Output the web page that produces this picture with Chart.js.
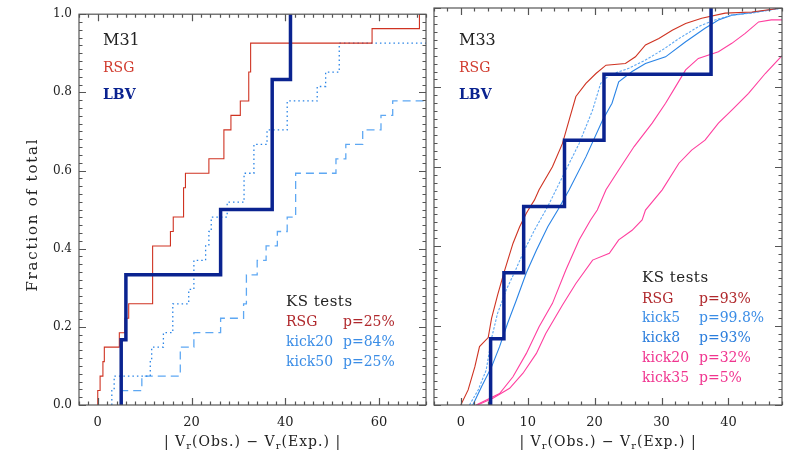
<!DOCTYPE html>
<html>
<head>
<meta charset="utf-8">
<script src="https://cdn.jsdelivr.net/npm/chart.js@4.4.0/dist/chart.umd.min.js"></script>
<style>
  html, body { margin: 0; padding: 0; background: #fff; }
  #wrap { position: relative; width: 789px; height: 456px; overflow: hidden; }
  canvas { position: absolute; top: 0; }
  #left { left: 0; }
  #right { left: 430px; }
</style>
</head>
<body>
<div id="wrap">
  <canvas id="left" width="430" height="456"></canvas>
  <canvas id="right" width="359" height="456"></canvas>
</div>
<script>
'use strict';

// tick labels
let xTicksM31 = [0, 20, 40, 60];
let xTicksM33 = [0, 10, 20, 30, 40];
let yTicks = [0, 0.2, 0.4, 0.6, 0.8, 1.0];

// M31: cumulative fractions (x = |Vr(Obs.) - Vr(Exp.)|, y = fraction after the step)
let lbvM31X = [5.0, 5.0, 6.0, 26.2, 37.2, 41.1];
let lbvM31Y = [0, 0.167, 0.333, 0.5, 0.833, 1.0];

let rsgM31X = [0, 0, 0.5, 1.1, 1.4, 4.6, 5.8, 6.6, 11.7, 15.5, 16.1, 18.3, 18.7, 23.7, 26.9, 28.4, 30.4, 32.2, 32.6, 58.5, 68.6, 70];
let rsgM31Y = [0, 0.037, 0.074, 0.111, 0.148, 0.185, 0.222, 0.259, 0.407, 0.444, 0.481, 0.556, 0.593, 0.630, 0.704, 0.741, 0.778, 0.852, 0.926, 0.963, 1.0, 1.0];

let kick20M31X = [3.0, 3.0, 3.5, 11.2, 11.5, 14.0, 16.0, 19.4, 20.5, 23.0, 23.7, 24.2, 27.6, 31.2, 33.3, 36.1, 40.4, 46.8, 48.6, 51.5, 70];
let kick20M31Y = [0, 0.037, 0.074, 0.111, 0.148, 0.185, 0.259, 0.296, 0.370, 0.407, 0.444, 0.481, 0.519, 0.593, 0.667, 0.704, 0.778, 0.815, 0.852, 0.926, 0.926];

let kick50M31X = [5.1, 5.1, 9.4, 17.6, 20.5, 26.2, 31.1, 31.7, 34.0, 35.9, 38.3, 40.4, 42.2, 50.8, 52.9, 56.5, 60.4, 62.9, 70];
let kick50M31Y = [0, 0.037, 0.074, 0.148, 0.185, 0.222, 0.259, 0.333, 0.370, 0.407, 0.444, 0.481, 0.593, 0.630, 0.667, 0.704, 0.741, 0.778, 0.778];

// M33
let lbvM33X = [4.46, 4.46, 6.45, 9.4, 15.5, 21.4, 37.4];
let lbvM33Y = [0, 0.167, 0.333, 0.5, 0.667, 0.833, 1.0];

let rsgM33X = [0, 1.1, 2.1, 2.8, 4.1, 4.6, 5.5, 6.5, 7.8, 8.8, 9.8, 10.4, 11.0, 11.7, 13.7, 15.2, 16.2, 17.2, 18.7, 20.2, 21.7, 24.6, 26.1, 27.6, 29.6, 31.6, 33.6, 36.0, 39.5, 43.5, 48];
let rsgM33Y = [0, 0.038, 0.096, 0.147, 0.17, 0.218, 0.277, 0.336, 0.407, 0.449, 0.483, 0.5, 0.516, 0.542, 0.6, 0.659, 0.718, 0.777, 0.81, 0.835, 0.856, 0.86, 0.877, 0.907, 0.923, 0.944, 0.961, 0.974, 0.987, 0.99, 1.0];

let kick5M33X = [1.3, 2.6, 3.8, 4.6, 5.5, 6.8, 8.0, 9.5, 11.0, 13.0, 15.2, 17.7, 19.7, 20.9, 22.2, 25.1, 27.6, 30.1, 32.6, 35.5, 38.0, 40.5, 43.5, 48];
let kick5M33Y = [0, 0.038, 0.088, 0.168, 0.231, 0.29, 0.333, 0.39, 0.44, 0.5, 0.575, 0.659, 0.743, 0.81, 0.831, 0.848, 0.869, 0.894, 0.923, 0.953, 0.97, 0.982, 0.987, 1.0];

let kick8M33X = [1.8, 3.1, 4.6, 5.8, 7.0, 8.3, 9.8, 11.3, 13.0, 14.5, 16.2, 18.7, 21.2, 22.6, 23.6, 25.6, 27.6, 30.6, 33.6, 36.5, 38.5, 40.5, 43.4, 48];
let kick8M33Y = [0, 0.046, 0.096, 0.147, 0.206, 0.264, 0.333, 0.39, 0.449, 0.491, 0.542, 0.625, 0.718, 0.76, 0.814, 0.84, 0.86, 0.877, 0.915, 0.949, 0.97, 0.982, 0.988, 1.0];

let kick20M33X = [2.3, 5.8, 7.8, 9.8, 11.7, 13.7, 15.7, 17.7, 19.4, 20.4, 21.7, 23.6, 25.9, 28.6, 30.6, 32.1, 33.6, 35.5, 38.5, 40.5, 42.5, 44.5, 46.4, 48];
let kick20M33Y = [0, 0.029, 0.071, 0.13, 0.197, 0.256, 0.34, 0.416, 0.466, 0.491, 0.542, 0.592, 0.651, 0.71, 0.76, 0.802, 0.844, 0.873, 0.89, 0.911, 0.936, 0.965, 0.97, 0.97];

let kick35M33X = [2.5, 4.8, 7.3, 9.3, 11.3, 12.7, 15.2, 17.2, 19.7, 22.2, 23.6, 25.6, 27.1, 27.6, 30.1, 32.6, 34.5, 36.5, 38.5, 40.5, 43.0, 45.5, 48];
let kick35M33Y = [0, 0.017, 0.042, 0.08, 0.13, 0.18, 0.252, 0.306, 0.365, 0.382, 0.416, 0.44, 0.466, 0.491, 0.542, 0.609, 0.642, 0.667, 0.71, 0.743, 0.785, 0.835, 0.88];

let RED = '#cf3322';
let NAVY = '#0a2390';
let BLUE_LIGHT = '#5ea8f3';
let BLUE = '#2a84e6';
let PINK = '#ff3f9f';
let SERIF = '"DejaVu Serif", "Liberation Serif", serif';

function toPoints(xs, ys) {
  return xs.map((x, i) => ({ x: x, y: ys[i] }));
}

function drawText(ctx, str, x, y, size, color, bold, spacing) {
  ctx.font = (bold ? 'bold ' : '') + size + 'px ' + SERIF;
  ctx.fillStyle = color;
  ctx.letterSpacing = (spacing || 0) + 'px';
  ctx.fillText(str, x, y);
  ctx.letterSpacing = '0px';
}

// box with inward ticks on all four sides
let framePlugin = {
  id: 'frame',
  afterDatasetsDraw(chart, args, opts) {
    let ctx = chart.ctx;
    let a = chart.chartArea;
    let xs = chart.scales.x;
    let ys = chart.scales.y;
    ctx.save();
    ctx.strokeStyle = '#555';
    ctx.lineWidth = 1.2;
    ctx.strokeRect(a.left, a.top, a.right - a.left, a.bottom - a.top);
    ctx.beginPath();
    for (let k = Math.ceil(xs.min / opts.xMinor); k * opts.xMinor <= xs.max; k++) {
      let v = k * opts.xMinor;
      let px = Math.round(xs.getPixelForValue(v)) + 0.5;
      let len = (k % opts.xEvery === 0) ? 7 : 3.5;
      ctx.moveTo(px, a.bottom); ctx.lineTo(px, a.bottom - len);
      ctx.moveTo(px, a.top); ctx.lineTo(px, a.top + len);
    }
    for (let k = 0; k <= 50; k++) {
      let py = Math.round(ys.getPixelForValue(k * 0.02)) + 0.5;
      let len = (k % 10 === 0) ? 7 : 3.5;
      ctx.moveTo(a.left, py); ctx.lineTo(a.left + len, py);
      ctx.moveTo(a.right, py); ctx.lineTo(a.right - len, py);
    }
    ctx.stroke();
    ctx.restore();
  },
  afterDraw(chart, args, opts) {
    let ctx = chart.ctx;
    let a = chart.chartArea;
    ctx.save();
    ctx.textBaseline = 'alphabetic';
    ctx.textAlign = 'left';
    opts.texts.forEach(t => {
      drawText(ctx, t.text, a.left + t.dx, t.y, t.size, t.color, t.bold, t.spacing);
    });

    // x axis title with subscripts
    let parts = [['| V', 0], ['r', 1], ['(Obs.) \u2212 V', 0], ['r', 1], ['(Exp.) |', 0]];
    let widths = parts.map(p => {
      ctx.font = (p[1] ? 10 : 14) + 'px ' + SERIF;
      ctx.letterSpacing = '1px';
      return ctx.measureText(p[0]).width;
    });
    let total = widths.reduce((s, w) => s + w, 0);
    let x = (a.left + a.right) / 2 - total / 2;
    parts.forEach((p, i) => {
      drawText(ctx, p[0], x, p[1] ? 449 : 446, p[1] ? 10 : 14, '#222', false, 1);
      x += widths[i];
    });

    if (opts.yTitle) {
      ctx.translate(37, (a.top + a.bottom) / 2 + 5);
      ctx.rotate(-Math.PI / 2);
      ctx.textAlign = 'center';
      drawText(ctx, opts.yTitle, 0, 0, 15, '#222', false, 1.8);
    }
    ctx.restore();
  }
};

function lineSet(xs, ys, color, width, dash, stepped) {
  return {
    data: toPoints(xs, ys),
    borderColor: color,
    borderWidth: width,
    borderDash: dash,
    stepped: stepped ? 'before' : false,
    pointRadius: 0,
    tension: 0,
    fill: false,
    clip: 0
  };
}

function makeOptions(xMin, xMax, xTicks, showY, texts, frame) {
  return {
    responsive: false,
    devicePixelRatio: 1,
    animation: false,
    layout: { padding: frame.padding },
    plugins: {
      legend: { display: false },
      tooltip: { enabled: false },
      frame: Object.assign({ texts: texts }, frame)
    },
    scales: {
      x: {
        type: 'linear',
        min: xMin,
        max: xMax,
        grid: { display: false, drawTicks: false },
        border: { display: false },
        afterBuildTicks: s => { s.ticks = xTicks.map(v => ({ value: v })); },
        afterFit: s => { s.height = 51; },
        ticks: {
          padding: 10,
          color: '#222',
          font: { family: SERIF, size: 13 },
          callback: v => String(v)
        }
      },
      y: {
        type: 'linear',
        min: 0,
        max: 1,
        grid: { display: false, drawTicks: false },
        border: { display: false },
        afterBuildTicks: s => { s.ticks = yTicks.map(v => ({ value: v })); },
        afterFit: s => { s.width = showY ? 79 : 4; },
        ticks: {
          display: showY,
          padding: 7,
          color: '#222',
          font: { family: SERIF, size: 12 },
          callback: v => v.toFixed(1)
        }
      }
    }
  };
}

let textsM31 = [
  { text: 'M31', dx: 24, y: 45, size: 16, color: '#222' },
  { text: 'RSG', dx: 24, y: 72, size: 14, color: '#d13b2e' },
  { text: 'LBV', dx: 24, y: 99, size: 14, color: NAVY, bold: true },
  { text: 'KS tests', dx: 207, y: 306, size: 15, color: '#222', spacing: 0.5 },
  { text: 'RSG', dx: 207, y: 326, size: 14, color: '#b0282c' },
  { text: 'p=25%', dx: 264, y: 326, size: 14, color: '#b0282c' },
  { text: 'kick20', dx: 207, y: 346, size: 14, color: '#3b8de6' },
  { text: 'p=84%', dx: 264, y: 346, size: 14, color: '#3b8de6' },
  { text: 'kick50', dx: 207, y: 366, size: 14, color: '#3b8de6' },
  { text: 'p=25%', dx: 264, y: 366, size: 14, color: '#3b8de6' }
];

let textsM33 = [
  { text: 'M33', dx: 25, y: 45, size: 16, color: '#222' },
  { text: 'RSG', dx: 25, y: 72, size: 14, color: '#d13b2e' },
  { text: 'LBV', dx: 25, y: 99, size: 14, color: NAVY, bold: true },
  { text: 'KS tests', dx: 208, y: 282, size: 15, color: '#222', spacing: 0.5 },
  { text: 'RSG', dx: 208, y: 303, size: 14, color: '#b0282c' },
  { text: 'p=93%', dx: 265, y: 303, size: 14, color: '#b0282c' },
  { text: 'kick5', dx: 208, y: 322, size: 14, color: '#3b8de6' },
  { text: 'p=99.8%', dx: 265, y: 322, size: 14, color: '#3b8de6' },
  { text: 'kick8', dx: 208, y: 342, size: 14, color: '#2a7ddc' },
  { text: 'p=93%', dx: 265, y: 342, size: 14, color: '#2a7ddc' },
  { text: 'kick20', dx: 208, y: 362, size: 14, color: '#f0358f' },
  { text: 'p=32%', dx: 265, y: 362, size: 14, color: '#f0358f' },
  { text: 'kick35', dx: 208, y: 382, size: 14, color: '#f0358f' },
  { text: 'p=5%', dx: 265, y: 382, size: 14, color: '#f0358f' }
];

new Chart(document.getElementById('left'), {
  type: 'line',
  data: {
    datasets: [
      lineSet(lbvM31X, lbvM31Y, NAVY, 3.5, [], true),
      lineSet(rsgM31X, rsgM31Y, RED, 1.1, [], true),
      lineSet(kick20M31X, kick20M31Y, BLUE, 1.3, [1.5, 3], true),
      lineSet(kick50M31X, kick50M31Y, BLUE_LIGHT, 1.3, [8, 5], true)
    ]
  },
  options: makeOptions(-4, 70, xTicksM31, true, textsM31, {
    padding: { left: 0, right: 4, top: 8, bottom: 0 },
    xMinor: 2, xEvery: 10, yTitle: 'Fraction of total'
  }),
  plugins: [framePlugin]
});

new Chart(document.getElementById('right'), {
  type: 'line',
  data: {
    datasets: [
      lineSet(lbvM33X, lbvM33Y, NAVY, 3.5, [], true),
      lineSet(rsgM33X, rsgM33Y, RED, 1.1, [], false),
      lineSet(kick5M33X, kick5M33Y, BLUE_LIGHT, 1.1, [2.5, 1.5], false),
      lineSet(kick8M33X, kick8M33Y, BLUE, 1.1, [], false),
      lineSet(kick20M33X, kick20M33Y, PINK, 1.1, [], false),
      lineSet(kick35M33X, kick35M33Y, PINK, 1.1, [], false)
    ]
  },
  options: makeOptions(-4, 48, xTicksM33, false, textsM33, {
    padding: { left: 0, right: 7, top: 8, bottom: 0 },
    xMinor: 2, xEvery: 5, yTitle: null
  }),
  plugins: [framePlugin]
});
</script>
</body>
</html>
